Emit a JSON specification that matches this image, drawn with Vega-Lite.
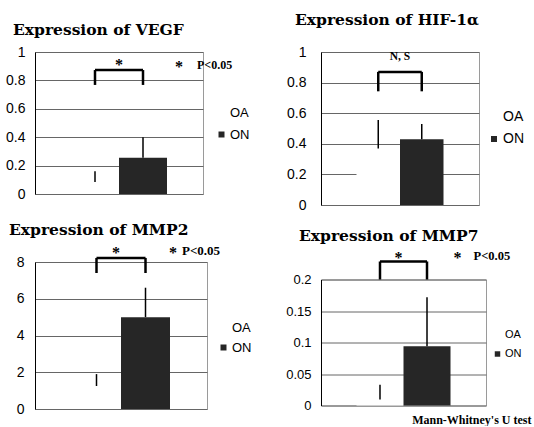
{
  "$schema": "https://vega.github.io/schema/vega-lite/v6.json",
  "background": "white",
  "padding": {"left": 5, "top": 12, "right": 0, "bottom": 0},
  "spacing": 32,
  "config": {"view": {"stroke": "#9a9a9a"}, "font": "Liberation Sans"},
  "resolve": {"scale": {"color": "independent", "x": "independent", "y": "independent"}, "legend": {"color": "independent"}, "axis": {"x": "independent", "y": "independent"}},
  "hconcat": [
    {
      "spacing": 20,
      "resolve": {"scale": {"color": "independent", "x": "independent", "y": "independent"}, "legend": {"color": "independent"}, "axis": {"x": "independent", "y": "independent"}},
      "vconcat": [
        {
          "width": 168, "height": 142,
          "title": {"text": "Expression of VEGF", "anchor": "start", "frame": "group", "dx": -22, "offset": -5, "baseline": "alphabetic", "font": "DejaVu Serif", "fontSize": 15.5, "fontWeight": "bold", "color": "black"},
          "layer": [
            {
              "data": {"values": [{"group": "OA", "mean": 0.085, "upper": 0.16}, {"group": "ON", "mean": 0.255, "upper": 0.40}]},
              "layer": [
                {"mark": {"type": "bar"},
                 "encoding": {
                   "x": {"field": "group", "type": "nominal", "title": null, "scale": {"domain": ["OA", "ON"], "paddingInner": 0, "paddingOuter": 0.75}, "axis": null},
                   "y": {"field": "mean", "type": "quantitative", "title": null, "scale": {"domain": [0, 1], "nice": false}, "axis": {"values": [0, 0.2, 0.4, 0.6, 0.8, 1], "tickCount": 20, "format": "~g", "labelOverlap": false, "labelBound": false, "labelFont": "Liberation Sans", "labelFontSize": 14, "labelColor": "black", "labelPadding": 10, "ticks": false, "domainColor": "black", "gridColor": "#666"}},
                   "color": {"field": "group", "type": "nominal", "scale": {"domain": ["OA", "ON"], "range": ["white", "#262626"]}, "legend": {"orient": "none", "legendX": 180, "legendY": 54, "title": null, "symbolType": "square", "symbolSize": 36, "symbolStrokeWidth": 0, "labelFont": "Liberation Sans", "labelFontSize": 13, "labelColor": "black", "rowPadding": 8, "labelOffset": 2}}
                 }},
                {"mark": {"type": "rule", "color": "black", "strokeWidth": 1.5},
                 "encoding": {"x": {"field": "group", "type": "nominal", "title": null}, "y": {"field": "mean", "type": "quantitative", "title": null}, "y2": {"field": "upper"}}}
              ]
            },
            {
              "data": {"values": [{"left": "OA", "right": "ON", "lo": 0.768, "hi": 0.873, "sig": "*", "sigY": 0.92, "star": "*", "note": "P<0.05", "noteY": 0.91}]},
              "layer": [
                {"mark": {"type": "rule", "color": "black", "strokeWidth": 2.5},
                 "encoding": {"x": {"field": "left", "type": "nominal", "title": null}, "x2": {"field": "right"}, "y": {"field": "hi", "type": "quantitative", "title": null}}},
                {"mark": {"type": "rule", "color": "black", "strokeWidth": 2.5},
                 "encoding": {"x": {"field": "left", "type": "nominal", "title": null}, "y": {"field": "lo", "type": "quantitative", "title": null}, "y2": {"field": "hi"}}},
                {"mark": {"type": "rule", "color": "black", "strokeWidth": 2.5},
                 "encoding": {"x": {"field": "right", "type": "nominal", "title": null}, "y": {"field": "lo", "type": "quantitative", "title": null}, "y2": {"field": "hi"}}},
                {"mark": {"type": "text", "font": "Liberation Serif", "fontWeight": "bold", "fontSize": 16, "baseline": "middle", "align": "center", "dy": 2},
                 "encoding": {"x": {"field": "right", "type": "nominal", "bandPosition": 0, "title": null}, "y": {"field": "sigY", "type": "quantitative", "title": null}, "text": {"field": "sig"}}},
                {"mark": {"type": "text", "font": "Liberation Serif", "fontWeight": "bold", "fontSize": 16, "baseline": "middle", "align": "center", "dx": 12, "dy": 2},
                 "encoding": {"x": {"field": "right", "type": "nominal", "bandPosition": 1, "title": null}, "y": {"field": "noteY", "type": "quantitative", "title": null}, "text": {"field": "star"}}},
                {"mark": {"type": "text", "font": "Liberation Serif", "fontWeight": "bold", "fontSize": 12, "baseline": "middle", "align": "left", "dx": 30},
                 "encoding": {"x": {"field": "right", "type": "nominal", "bandPosition": 1, "title": null}, "y": {"field": "noteY", "type": "quantitative", "title": null}, "text": {"field": "note"}}}
              ]
            }
          ]
        },
        {
          "width": 172, "height": 147,
          "title": {"text": "Expression of MMP2", "anchor": "start", "frame": "group", "dx": -26, "offset": -5.5, "baseline": "alphabetic", "font": "DejaVu Serif", "fontSize": 15.5, "fontWeight": "bold", "color": "black"},
          "layer": [
            {
              "data": {"values": [{"group": "OA", "mean": 1.25, "upper": 1.9}, {"group": "ON", "mean": 5.0, "upper": 6.6}]},
              "layer": [
                {"mark": {"type": "bar"},
                 "encoding": {
                   "x": {"field": "group", "type": "nominal", "title": null, "scale": {"domain": ["OA", "ON"], "paddingInner": 0, "paddingOuter": 0.755}, "axis": null},
                   "y": {"field": "mean", "type": "quantitative", "title": null, "scale": {"domain": [0, 8], "nice": false}, "axis": {"values": [0, 2, 4, 6, 8], "tickCount": 20, "format": "~g", "labelOverlap": false, "labelBound": false, "labelFont": "Liberation Sans", "labelFontSize": 14, "labelColor": "black", "labelPadding": 11, "ticks": false, "domainColor": "black", "gridColor": "#666"}},
                   "color": {"field": "group", "type": "nominal", "scale": {"domain": ["OA", "ON"], "range": ["white", "#262626"]}, "legend": {"orient": "none", "legendX": 182, "legendY": 59, "title": null, "symbolType": "square", "symbolSize": 36, "symbolStrokeWidth": 0, "labelFont": "Liberation Sans", "labelFontSize": 13, "labelColor": "black", "rowPadding": 6, "labelOffset": 2}}
                 }},
                {"mark": {"type": "rule", "color": "black", "strokeWidth": 1.5},
                 "encoding": {"x": {"field": "group", "type": "nominal", "title": null}, "y": {"field": "mean", "type": "quantitative", "title": null}, "y2": {"field": "upper"}}}
              ]
            },
            {
              "data": {"values": [{"left": "OA", "right": "ON", "lo": 7.4, "hi": 8.22, "sig": "*", "sigY": 8.6, "star": "*", "note": "P<0.05", "noteY": 8.6}]},
              "layer": [
                {"mark": {"type": "rule", "color": "black", "strokeWidth": 2.5},
                 "encoding": {"x": {"field": "left", "type": "nominal", "title": null}, "x2": {"field": "right"}, "y": {"field": "hi", "type": "quantitative", "title": null}}},
                {"mark": {"type": "rule", "color": "black", "strokeWidth": 2.5},
                 "encoding": {"x": {"field": "left", "type": "nominal", "title": null}, "y": {"field": "lo", "type": "quantitative", "title": null}, "y2": {"field": "hi"}}},
                {"mark": {"type": "rule", "color": "black", "strokeWidth": 2.5},
                 "encoding": {"x": {"field": "right", "type": "nominal", "title": null}, "y": {"field": "lo", "type": "quantitative", "title": null}, "y2": {"field": "hi"}}},
                {"mark": {"type": "text", "font": "Liberation Serif", "fontWeight": "bold", "fontSize": 16, "baseline": "middle", "align": "center", "dx": -5, "dy": 2},
                 "encoding": {"x": {"field": "right", "type": "nominal", "bandPosition": 0, "title": null}, "y": {"field": "sigY", "type": "quantitative", "title": null}, "text": {"field": "sig"}}},
                {"mark": {"type": "text", "font": "Liberation Serif", "fontWeight": "bold", "fontSize": 16, "baseline": "middle", "align": "center", "dx": 3, "dy": 2},
                 "encoding": {"x": {"field": "right", "type": "nominal", "bandPosition": 1, "title": null}, "y": {"field": "noteY", "type": "quantitative", "title": null}, "text": {"field": "star"}}},
                {"mark": {"type": "text", "font": "Liberation Serif", "fontWeight": "bold", "fontSize": 13, "baseline": "middle", "align": "left", "dx": 12},
                 "encoding": {"x": {"field": "right", "type": "nominal", "bandPosition": 1, "title": null}, "y": {"field": "noteY", "type": "quantitative", "title": null}, "text": {"field": "note"}}}
              ]
            }
          ]
        }
      ]
    },
    {
      "spacing": 15.5,
      "resolve": {"scale": {"color": "independent", "x": "independent", "y": "independent"}, "legend": {"color": "independent"}, "axis": {"x": "independent", "y": "independent"}},
      "vconcat": [
        {
          "width": 158, "height": 153,
          "title": {"text": "Expression of HIF-1α", "anchor": "start", "frame": "group", "dx": -26, "offset": 4.5, "baseline": "alphabetic", "font": "DejaVu Serif", "fontSize": 15.5, "fontWeight": "bold", "color": "black"},
          "layer": [
            {
              "data": {"values": [{"group": "OA", "mean": 0.37, "upper": 0.555}, {"group": "ON", "mean": 0.43, "upper": 0.53}]},
              "layer": [
                {"mark": {"type": "bar"},
                 "encoding": {
                   "x": {"field": "group", "type": "nominal", "title": null, "scale": {"domain": ["OA", "ON"], "paddingInner": 0, "paddingOuter": 0.816}, "axis": null},
                   "y": {"field": "mean", "type": "quantitative", "title": null, "scale": {"domain": [0, 1], "nice": false}, "axis": {"values": [0, 0.2, 0.4, 0.6, 0.8, 1], "tickCount": 20, "format": "~g", "labelOverlap": false, "labelBound": false, "labelFont": "Liberation Sans", "labelFontSize": 14, "labelColor": "black", "labelPadding": 15, "ticks": false, "domainColor": "black", "gridColor": "#666"}},
                   "color": {"field": "group", "type": "nominal", "scale": {"domain": ["OA", "ON"], "range": ["white", "#262626"]}, "legend": {"orient": "none", "legendX": 166, "legendY": 58, "title": null, "symbolType": "square", "symbolSize": 36, "symbolStrokeWidth": 0, "labelFont": "Liberation Sans", "labelFontSize": 14, "labelColor": "black", "rowPadding": 8, "labelOffset": 2}}
                 }},
                {"mark": {"type": "rule", "color": "black", "strokeWidth": 1.5},
                 "encoding": {"x": {"field": "group", "type": "nominal", "title": null}, "y": {"field": "mean", "type": "quantitative", "title": null}, "y2": {"field": "upper"}}}
              ]
            },
            {
              "data": {"values": [{"left": "OA", "right": "ON", "lo": 0.743, "hi": 0.87, "sig": "N, S", "sigY": 0.967}]},
              "layer": [
                {"mark": {"type": "rule", "color": "black", "strokeWidth": 2.5},
                 "encoding": {"x": {"field": "left", "type": "nominal", "title": null}, "x2": {"field": "right"}, "y": {"field": "hi", "type": "quantitative", "title": null}}},
                {"mark": {"type": "rule", "color": "black", "strokeWidth": 2.5},
                 "encoding": {"x": {"field": "left", "type": "nominal", "title": null}, "y": {"field": "lo", "type": "quantitative", "title": null}, "y2": {"field": "hi"}}},
                {"mark": {"type": "rule", "color": "black", "strokeWidth": 2.5},
                 "encoding": {"x": {"field": "right", "type": "nominal", "title": null}, "y": {"field": "lo", "type": "quantitative", "title": null}, "y2": {"field": "hi"}}},
                {"mark": {"type": "text", "font": "Liberation Serif", "fontWeight": "bold", "fontSize": 11.5, "baseline": "middle", "align": "center"},
                 "encoding": {"x": {"field": "right", "type": "nominal", "bandPosition": 0, "title": null}, "y": {"field": "sigY", "type": "quantitative", "title": null}, "text": {"field": "sig"}}}
              ]
            }
          ]
        },
        {
          "width": 165, "height": 126,
          "title": {"text": "Expression of MMP7", "anchor": "start", "frame": "group", "dx": -22, "offset": -7, "baseline": "alphabetic", "font": "DejaVu Serif", "fontSize": 15.5, "fontWeight": "bold", "color": "black"},
          "layer": [
            {
              "data": {"values": [{"group": "OA", "mean": 0.0095, "upper": 0.033}, {"group": "ON", "mean": 0.094, "upper": 0.172}]},
              "layer": [
                {"mark": {"type": "bar"},
                 "encoding": {
                   "x": {"field": "group", "type": "nominal", "title": "Mann-Whitney's U test", "scale": {"domain": ["OA", "ON"], "paddingInner": 0, "paddingOuter": 0.755}, "axis": {"labels": false, "ticks": false, "domain": false, "grid": false, "titleFont": "Liberation Serif", "titleFontWeight": "bold", "titleFontSize": 12, "titleColor": "black", "titleAnchor": "end", "titleAlign": "right", "titleX": 210, "titleY": 18, "titleBaseline": "alphabetic"}},
                   "y": {"field": "mean", "type": "quantitative", "title": null, "scale": {"domain": [0, 0.2], "nice": false}, "axis": {"values": [0, 0.05, 0.1, 0.15, 0.2], "tickCount": 20, "format": "~g", "labelOverlap": false, "labelBound": false, "labelFont": "Liberation Sans", "labelFontSize": 13, "labelColor": "black", "labelPadding": 10, "ticks": false, "domainColor": "black", "gridColor": "#666"}},
                   "color": {"field": "group", "type": "nominal", "scale": {"domain": ["OA", "ON"], "range": ["white", "#262626"]}, "legend": {"orient": "none", "legendX": 171, "legendY": 50, "title": null, "symbolType": "square", "symbolSize": 30, "symbolStrokeWidth": 0, "labelFont": "Liberation Sans", "labelFontSize": 11, "labelColor": "black", "rowPadding": 7, "labelOffset": 2}}
                 }},
                {"mark": {"type": "rule", "color": "black", "strokeWidth": 1.5},
                 "encoding": {"x": {"field": "group", "type": "nominal"}, "y": {"field": "mean", "type": "quantitative", "title": null}, "y2": {"field": "upper"}}}
              ]
            },
            {
              "data": {"values": [{"left": "OA", "right": "ON", "lo": 0.2, "hi": 0.2286, "sig": "*", "sigY": 0.238, "star": "*", "note": "P<0.05", "noteY": 0.238}]},
              "layer": [
                {"mark": {"type": "rule", "color": "black", "strokeWidth": 2.5},
                 "encoding": {"x": {"field": "left", "type": "nominal"}, "x2": {"field": "right"}, "y": {"field": "hi", "type": "quantitative", "title": null}}},
                {"mark": {"type": "rule", "color": "black", "strokeWidth": 2.5},
                 "encoding": {"x": {"field": "left", "type": "nominal"}, "y": {"field": "lo", "type": "quantitative", "title": null}, "y2": {"field": "hi"}}},
                {"mark": {"type": "rule", "color": "black", "strokeWidth": 2.5},
                 "encoding": {"x": {"field": "right", "type": "nominal"}, "y": {"field": "lo", "type": "quantitative", "title": null}, "y2": {"field": "hi"}}},
                {"mark": {"type": "text", "font": "Liberation Serif", "fontWeight": "bold", "fontSize": 16, "baseline": "middle", "align": "center", "dx": -5, "dy": 2},
                 "encoding": {"x": {"field": "right", "type": "nominal", "bandPosition": 0}, "y": {"field": "sigY", "type": "quantitative", "title": null}, "text": {"field": "sig"}}},
                {"mark": {"type": "text", "font": "Liberation Serif", "fontWeight": "bold", "fontSize": 16, "baseline": "middle", "align": "center", "dx": 7, "dy": 2},
                 "encoding": {"x": {"field": "right", "type": "nominal", "bandPosition": 1}, "y": {"field": "noteY", "type": "quantitative", "title": null}, "text": {"field": "star"}}},
                {"mark": {"type": "text", "font": "Liberation Serif", "fontWeight": "bold", "fontSize": 12.5, "baseline": "middle", "align": "left", "dx": 23},
                 "encoding": {"x": {"field": "right", "type": "nominal", "bandPosition": 1}, "y": {"field": "noteY", "type": "quantitative", "title": null}, "text": {"field": "note"}}}
              ]
            }
          ]
        }
      ]
    }
  ]
}
